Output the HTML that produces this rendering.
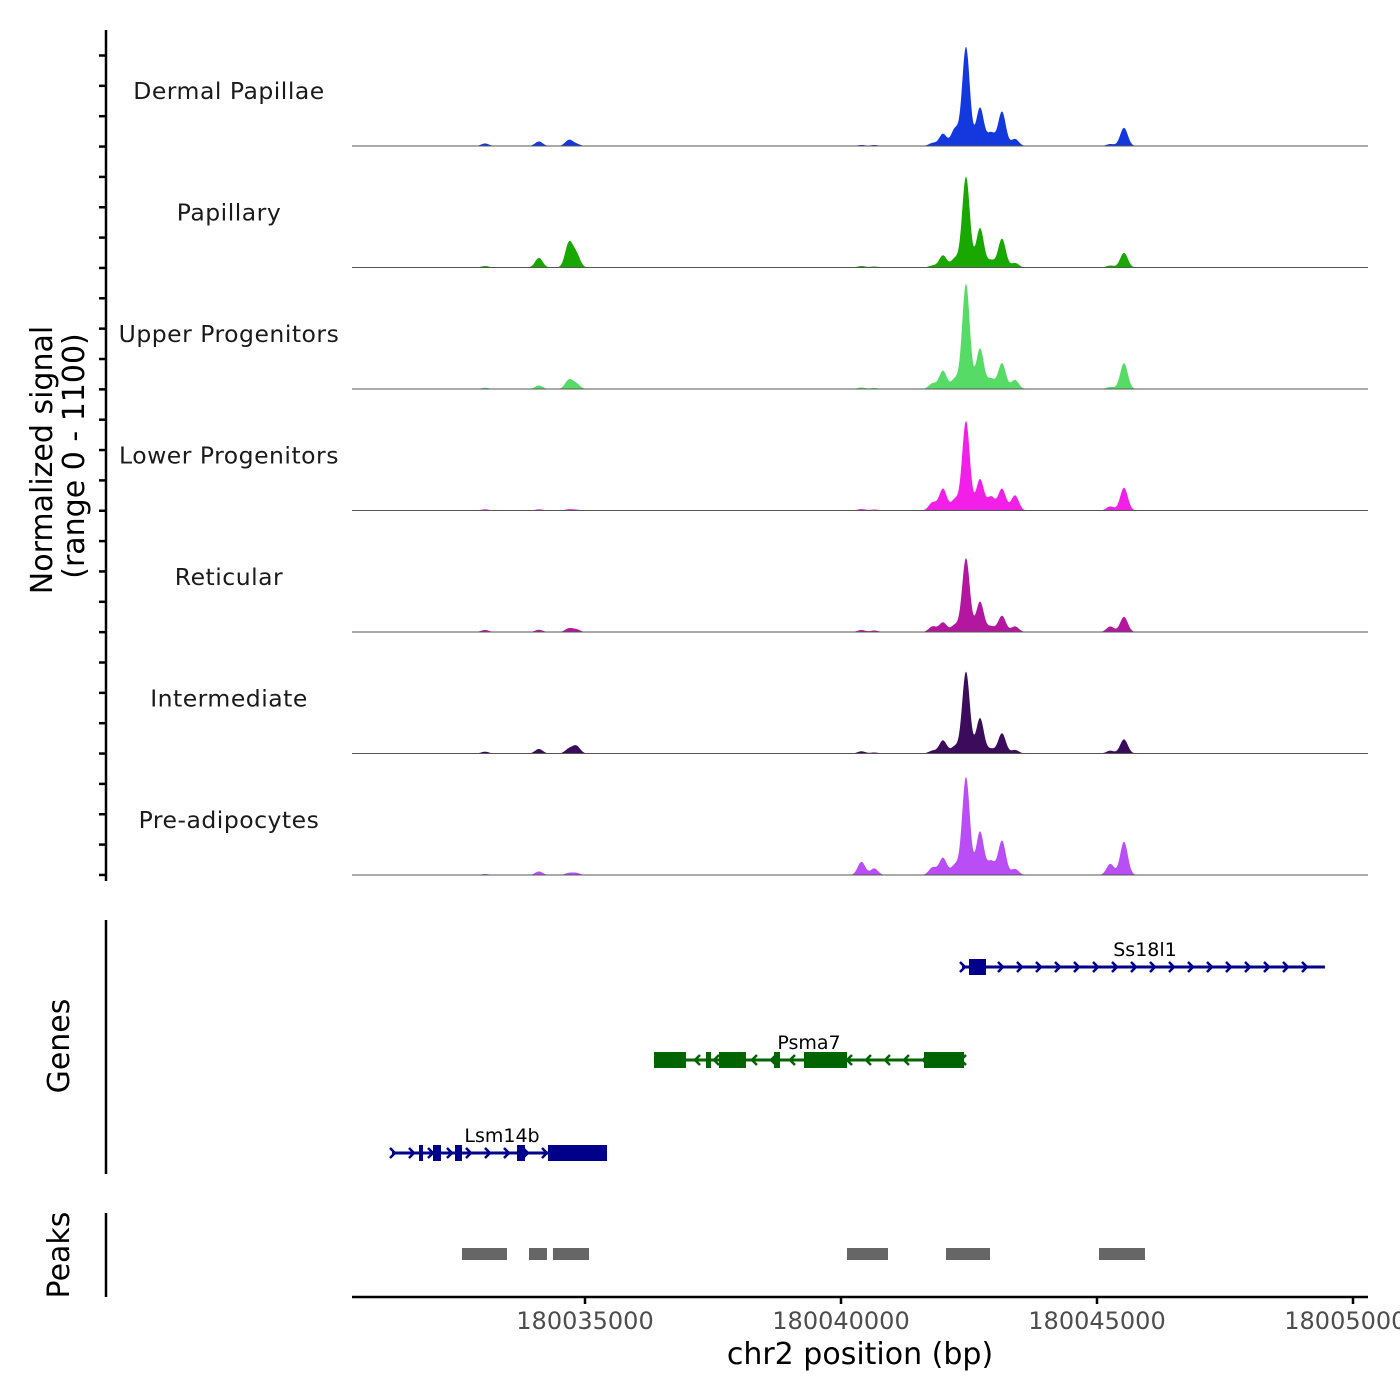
<!DOCTYPE html>
<html><head><meta charset="utf-8"><style>
html,body{margin:0;padding:0;background:#fff;width:1400px;height:1400px;overflow:hidden}
svg{display:block;font-family:"DejaVu Sans","Liberation Sans",sans-serif}
</style></head><body>
<svg id="chart" width="1400" height="1400" viewBox="0 0 1400 1400">
<g id="tracks"></g>
<g id="genes"></g>
<g id="peaks"></g>
<g id="axes"></g>
</svg>
<script>
// ---- data ----
const xMinBp = 180030449, xMaxBp = 180050293;
const xTicks = [180035000, 180040000, 180045000, 180050000];
const trackNames = ["Dermal Papillae","Papillary","Upper Progenitors","Lower Progenitors","Reticular","Intermediate","Pre-adipocytes"];
const trackColors = ["#1238de","#19a800","#56dc66","#f21fe8","#b3169f","#3b0b5c","#b94ef6"];
const signalMax = 1100;
// peaks per track: position (bp), value (signal units)
const peakPos = [180033047,180034100,180034686,180034830,180040400,180040650,180041790,180041992,180042226,180042441,180042715,180042930,180043144,180043398,180045260,180045527];
const dpVals  = [25,45,60,20,10,10,30,120,170,980,380,130,340,70,20,180];
const papVals = [15,95,240,130,15,10,20,120,90,900,390,70,285,45,20,145];
const upVals  = [12,35,90,50,15,10,55,180,100,1040,400,100,255,90,20,255];
const lpVals  = [12,12,12,8,15,10,80,215,110,885,310,135,215,150,40,225];
const retVals = [20,22,35,25,20,15,55,95,70,730,300,55,160,55,55,150];
const intVals = [18,45,45,75,22,10,28,130,70,810,350,45,200,35,28,140];
const preVals = [10,35,20,20,130,65,75,170,100,970,430,135,340,60,110,330];
const signals = [dpVals,papVals,upVals,lpVals,retVals,intVals,preVals];
// genes
const geneNames = ["Ss18l1","Psma7","Lsm14b"];
const geneStrand = [1,-1,1];
const geneStart = [180042363,180036347,180031230];
const geneEnd = [180049452,180042402,180035430];
const geneColors = ["#00008b","#006400","#00008b"];
const geneExons = [
  [[180042500,180042832]],
  [[180036347,180036972],[180037363,180037460],[180037617,180038144],[180038691,180038808],[180039277,180040117],[180041621,180042402]],
  [[180031758,180031836],[180032031,180032187],[180032461,180032597],[180033672,180033828],[180034277,180035430]]
];
// peaks track
const peakStart = [180032597,180033906,180034374,180040117,180042051,180045039];
const peakEnd   = [180033476,180034257,180035078,180040918,180042910,180045937];

// ---- layout ----
const NS="http://www.w3.org/2000/svg";
const X0=352, X1=1368;
const xs = bp => X0 + (bp - xMinBp) / (xMaxBp - xMinBp) * (X1 - X0);
const baseY = i => 146 + i*121.5;
const ys = (i,v) => baseY(i) - v / signalMax * 111;
function mk(tag, attrs, parent){const e=document.createElementNS(NS,tag);for(const k in attrs)e.setAttribute(k,attrs[k]);parent.appendChild(e);return e;}
const tracks=document.getElementById('tracks');
const sigmaPx=3.8;
signals.forEach((vals,i)=>{
  const g=mk('g',{},tracks);
  
  
  let pts=[[X0,baseY(i)]];
  for(let px=X0;px<=X1;px+=0.5){
    let v=0;
    for(let k=0;k<peakPos.length;k++){const d=(px-xs(peakPos[k]))/sigmaPx;v+=vals[k]*Math.exp(-0.5*d*d);}
    pts.push([px,ys(i,Math.min(v,signalMax))]);
  }
  pts.push([X1,baseY(i)]);
  const p=mk('path',{d:'M'+pts.map(p=>p[0].toFixed(1)+','+p[1].toFixed(2)).join('L')+'Z',fill:trackColors[i]},g);
  
  
  const l=mk('line',{x1:X0,x2:X1,y1:baseY(i),y2:baseY(i),stroke:'#555','stroke-width':1},g);
  
  
  const t=mk('text',{x:229,y:baseY(i)-47,'text-anchor':'middle','font-size':23.5,fill:'#1a1a1a','letter-spacing':'0.5'},g);
  t.textContent=trackNames[i];
  
  
});
// genes
const genes=document.getElementById('genes');
const geneY=[967,1060,1153];
geneNames.forEach((n,i)=>{
  const g=mk('g',{},genes);
  
  
  const y=geneY[i], c=geneColors[i], a=xs(geneStart[i]), b=xs(geneEnd[i]);
  mk('line',{x1:a,x2:b,y1:y,y2:y,stroke:c,'stroke-width':3},g);
  for(let x=a+3;x<b-2;x+=19){
    const d=geneStrand[i]*5;
    mk('polyline',{points:`${x-d},${y-5} ${x},${y} ${x-d},${y+5}`,fill:'none',stroke:c,'stroke-width':2.5},g);
  }
  geneExons[i].forEach(e=>{
    const r=mk('rect',{x:xs(e[0]),y:y-8,width:Math.max(3,xs(e[1])-xs(e[0])),height:16,fill:c},g);
    
    
  });
  const lab=mk('text',{x:(i===0?1145:i===1?809:502),y:y-11,'text-anchor':'middle','font-size':19,fill:'#000'},g);
  lab.textContent=n;
  
  
});
// peaks
const peaks=document.getElementById('peaks');
peakStart.forEach((s,i)=>{
  const r=mk('rect',{x:xs(s),y:1248,width:xs(peakEnd[i])-xs(s),height:12,fill:'#666'},peaks);
  
  
});
// axes
const axes=document.getElementById('axes');
function ln(x1,y1,x2,y2,w,name){const l=mk('line',{x1,y1,x2,y2,stroke:'#000','stroke-width':w},axes);return l;}
ln(106,30,106,881,2.5,'y-axis-line');
for(let y=55.5;y<=880;y+=30.35) ln(99,y,106,y,2.5,'y-tick');
ln(106,920,106,1174,2.5,'genes-axis-line');
ln(106,1213,106,1297,2.5,'peaks-axis-line');
ln(352,1297,1368,1297,2.5,'x-axis-line');
xTicks.forEach(t=>{
  ln(xs(t),1297,xs(t),1304,2.5,'x-tick');
  const tx=mk('text',{x:xs(t),y:1329,'text-anchor':'middle','font-size':24,fill:'#4d4d4d'},axes);
  tx.textContent=String(t);
  
  
});
function txt(s,x,y,size,rot,name){const t=mk('text',{x,y,'text-anchor':'middle','font-size':size,fill:'#000',transform:rot?`rotate(-90 ${x} ${y})`:''},axes);t.textContent=s;}
txt('chr2 position (bp)',860,1364,30,false,'x-axis-title');
txt('Normalized signal',52,460,30,true,'y-axis-title');
txt('(range 0 - 1100)',84,456,30,true,'y-axis-subtitle');
txt('Genes',69,1046,30,true,'genes-axis-title');
txt('Peaks',69,1255,30,true,'peaks-axis-title');
</script>
</body></html>
